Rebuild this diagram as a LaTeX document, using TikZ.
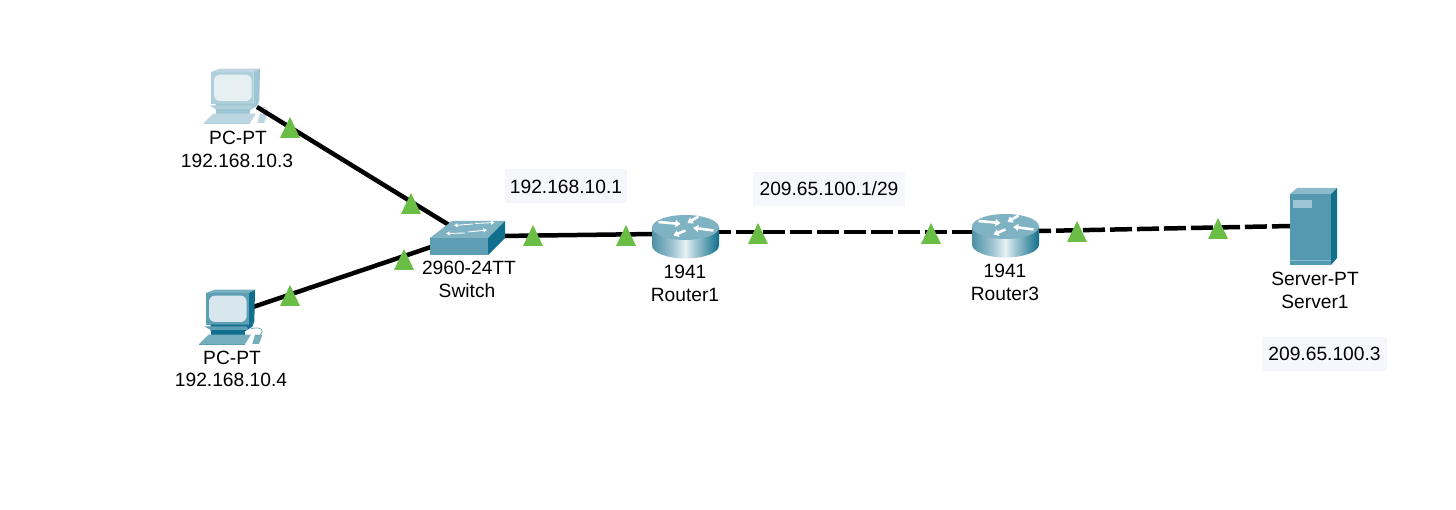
\documentclass[tikz,border=0pt]{standalone}
\usepackage{fontspec}
\setmainfont{Liberation Sans}
\usetikzlibrary{arrows.meta}
\definecolor{ipbg}{HTML}{F6F6FD}
\definecolor{stat}{HTML}{6ABD45}
\definecolor{swfront}{HTML}{5E9EB4}
\definecolor{swtop}{HTML}{7FB2C3}
\definecolor{swright}{HTML}{0F6F8C}
\definecolor{srvfront}{HTML}{5499B0}
\definecolor{srvtop}{HTML}{8DBBCB}
\definecolor{srvpanel}{HTML}{9CC4D2}
\definecolor{rb0}{HTML}{4F90A6}
\definecolor{rb1}{HTML}{9CC3D0}
\definecolor{rb2}{HTML}{E6F0F3}
\definecolor{rb3}{HTML}{0F6F8C}
\pgfdeclarehorizontalshading{routerbody}{100bp}{
  color(0bp)=(rb0); color(25bp)=(rb0); color(40bp)=(rb1); color(50bp)=(rb2);
  color(58bp)=(rb1); color(75bp)=(rb3); color(100bp)=(rb3)}
\tikzset{
  x=1pt,y=-1pt,
  txt/.style={font=\fontsize{19.2}{21}\selectfont,text=black,inner sep=0pt,align=center},
  ipbox/.style={txt,fill=ipbg,minimum height=34pt},
  link/.style={line width=4.5pt,black},
  dashlink/.style={link,dash pattern=on 22pt off 5pt},
  pcside/.initial=black,pctop/.initial=black,pcfront/.initial=black,pcscreen/.initial=black,
  pcicon/.pic={
    \begin{scope}[scale=1/3,shift={(-123,-65)}]
      \fill[\pgfkeysvalueof{/tikz/pcside}] (250,65)--(270,55)--(268,150)--(250,160)--cycle;
      \fill[\pgfkeysvalueof{/tikz/pctop}] (123,65)--(150,55)--(270,55)--(250,65)--cycle;
      \fill[\pgfkeysvalueof{/tikz/pcfront}] (123,65) rectangle (250,160);
      \fill[\pgfkeysvalueof{/tikz/pcscreen},rounded corners=6pt] (132,73) rectangle (245,152);
      \fill[\pgfkeysvalueof{/tikz/pcside}] (137,160)--(250,160)--(268,150)--(262,166)--(240,180)--(137,180)--cycle;
      \fill[\pgfkeysvalueof{/tikz/pcfront}] (118,165)--(245,165)--(250,176)--(137,176)--cycle;
      \fill[\pgfkeysvalueof{/tikz/pcside}] (137,178) rectangle (240,190);
      \fill[\pgfkeysvalueof{/tikz/pctop}] (130,190)--(258,190)--(240,218)--(102,218)--cycle;
      \fill[\pgfkeysvalueof{/tikz/pcfront}] (102,218)--(240,218)--(240,221)--(102,221)--cycle;
      \fill[\pgfkeysvalueof{/tikz/pctop}] (270,190)--(292,190)--(282,218)--(262,218)--cycle;
      \draw[\pgfkeysvalueof{/tikz/pctop},line width=.8pt] (258,172) .. controls (290,165) and (300,178) .. (285,190);
    \end{scope}
  },
  routericon/.pic={
    \shade[shading=routerbody] (-33.5,0) -- (-33.5,18) arc[start angle=180,end angle=0,x radius=33.5,y radius=13] -- (33.5,0) -- cycle;
    \fill[swtop] (0,0) ellipse[x radius=33.5,y radius=12.5];
    \begin{scope}[white,line width=2.6pt,-{Triangle[length=5pt,width=7pt]}]
      \draw (-27,-5.5) -- (-5,-3.5);
      \draw (13,-11) -- (2,-4.5);
      \draw (0,3) -- (-12,8);
      \draw (28,3) -- (7.7,.3);
    \end{scope}
  },
  statusup/.pic={\fill[stat] (-10,10) -- (0,-11) -- (10,10) -- cycle;}
}
\begin{document}
\begin{tikzpicture}
\useasboundingbox (0,0) rectangle (1456,510);
\fill[white] (0,0) rectangle (1456,510);

% device ports
\coordinate (pcA) at (257,107);
\coordinate (pcB) at (250,308);
\coordinate (swA) at (449,225);
\coordinate (swB) at (431,247);
\coordinate (swC) at (500,236);
\coordinate (roAw) at (655,234);
\coordinate (roAe) at (709,232);
\coordinate (roBw) at (975,232);
\coordinate (roBe) at (1029,231.2);
\coordinate (srv) at (1291,226);

% links
\draw[link] (pcB) -- (swB);
\draw[link] (swC) -- (roAw);
\draw[dashlink] (roAe) -- (roBw);
\draw[dashlink] (roBe) -- (srv);

% PCs
\pic[pcside=srvtop!85!white,pctop=srvtop!60!white,pcfront=srvtop!70!white,pcscreen=rb2] at (211,72) {pcicon};
\pic[pcside=swright,pctop=swfront!85!white,pcfront=swfront,pcscreen=srvtop!35!white] at (206,293) {pcicon};
\draw[link] (pcA) -- (swA);

% switch
\fill[swfront] (430,238) rectangle (488,255);
\fill[swtop] (430,238) -- (452,221) -- (505,221) -- (488,238) -- cycle;
\fill[swright] (488,238) -- (505,221) -- (505,238) -- (488,255) -- cycle;
\begin{scope}[white,line width=.9pt,-{Triangle[length=3.5pt,width=4pt]}]
  \draw (473,224) -- (454,225.5);
  \draw (475,223.5) -- (494.5,222.5);
  \draw (465,233) -- (446,233.5);
  \draw (468,232) -- (487,230);
\end{scope}

% routers
\pic at (685.5,227.5) {routericon};
\pic at (1005.5,226.5) {routericon};

% server
\fill[srvtop] (1290,194) -- (1297,188) -- (1337,188) -- (1331,194) -- cycle;
\fill[swright] (1331,194) -- (1337,188) -- (1337,258) -- (1331,265) -- cycle;
\fill[srvfront] (1290,194) rectangle (1331,265);
\fill[srvpanel] (1293,200) rectangle (1312,208);
\draw[srvtop,line width=.8pt] (1290,260) -- (1331,260);

% link status
\foreach \x/\y in {290/128,411/204,404/260,290/296,533/236,626/236,758/234,931/234,1077/232,1218/229}
  \pic at (\x,\y) {statusup};

% labels
\node[txt] (pcAa) at (238,138) {PC-PT};
\node[txt] (pcAb) at (237,161) {192.168.10.3};
\node[txt] (pcBa) at (232,358) {PC-PT};
\node[txt] (pcBb) at (231,380) {192.168.10.4};
\node[txt] (swa) at (469,268) {2960-24TT};
\node[txt] (swb) at (467,291) {Switch};
\node[txt] (roAa) at (685,272) {1941};
\node[txt] (roAb) at (685,295) {Router1};
\node[txt] (roBa) at (1005,271) {1941};
\node[txt] (roBb) at (1005,294) {Router3};
\node[txt] (srva) at (1315,279) {Server-PT};
\node[txt] (srvb) at (1315,302) {Server1};
\node[ipbox,minimum width=122pt] (ipA) at (566,186.5) {192.168.10.1};
\node[ipbox,minimum width=152pt] (ipB) at (829,189) {209.65.100.1/29};
\node[ipbox,minimum width=125pt] (ipC) at (1324.5,354) {209.65.100.3};
\end{tikzpicture}
\end{document}
